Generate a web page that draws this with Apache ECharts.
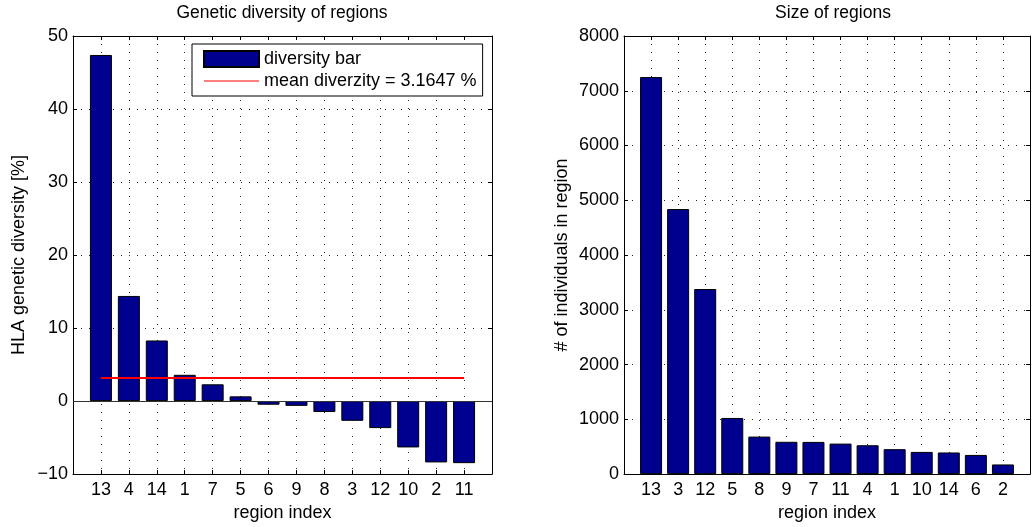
<!DOCTYPE html>
<html lang="en">
<head>
    <meta charset="UTF-8">
    <title>Regions</title>
    <script src="https://cdn.jsdelivr.net/npm/echarts@6/dist/echarts.min.js"></script>
    <style>
        html, body { margin: 0; padding: 0; background: #fff; }
    </style>
</head>
<body>
<div id="chart" style="width: 1033px;height: 527px;"></div>
<script>
    // left plot: diversity, sorted
    var divRegions = ['13', '4', '14', '1', '7', '5', '6', '9', '8', '3', '12', '10', '2', '11'];
    var divValues = [47.4, 14.4, 8.3, 3.6, 2.3, 0.65, -0.5, -0.65, -1.5, -2.7, -3.7, -6.35, -8.4, -8.5];
    var meanDiv = 3.1647;
    var divTicks = [-10, 0, 10, 20, 30, 40, 50];

    // right plot: size, sorted
    var sizeRegions = ['13', '3', '12', '5', '8', '9', '7', '11', '4', '1', '10', '14', '6', '2'];
    var sizeValues = [7250, 4840, 3380, 1025, 685, 590, 588, 557, 527, 455, 405, 395, 350, 176];
    var sizeTicks = [0, 1000, 2000, 3000, 4000, 5000, 6000, 7000, 8000];

    var FONT = "'Liberation Sans', Arial, Helvetica, sans-serif";
    var meanName = 'mean diverzity = ' + meanDiv + ' %';

    function toPoints(vals) {
        return vals.map(function (v, i) { return [i + 1, v]; });
    }

    var dotted = { color: '#222', width: 1, type: [1, 7] };

    function xAx(grid, cats, top) {
        return {
            type: 'value', gridIndex: grid, min: 0, max: 15, interval: 1,
            position: top ? 'top' : 'bottom',
            name: top ? '' : 'region index',
            nameLocation: 'middle', nameGap: 27,
            nameTextStyle: { fontFamily: FONT, fontSize: 18, color: '#000' },
            axisLine: { onZero: false, lineStyle: { color: '#000', width: 1 } },
            axisTick: { inside: true, length: 4, lineStyle: { color: '#000' } },
            axisLabel: {
                show: !top, margin: 7, fontFamily: FONT, fontSize: 18, color: '#000',
                formatter: function (v) { return cats[v - 1] || ''; }
            },
            splitLine: { show: !top, lineStyle: dotted }
        };
    }

    function yAx(grid, ticks, name, gap, right) {
        return {
            type: 'value', gridIndex: grid,
            min: ticks[0], max: ticks[ticks.length - 1], interval: ticks[1] - ticks[0],
            position: right ? 'right' : 'left',
            name: right ? '' : name,
            nameLocation: 'middle', nameGap: gap,
            nameTextStyle: { fontFamily: FONT, fontSize: 18, color: '#000' },
            axisLine: { show: true, onZero: false, lineStyle: { color: '#000', width: 1 } },
            axisTick: { show: true, inside: true, length: 4, lineStyle: { color: '#000' } },
            axisLabel: {
                show: !right, margin: 5, fontFamily: FONT, fontSize: 18, color: '#000',
                formatter: function (v) { return v < 0 ? '\u2212' + Math.abs(v) : String(v); }
            },
            splitLine: { show: !right, lineStyle: dotted }
        };
    }

    var myChart = echarts.init(document.getElementById('chart'));
    var option = {
        animation: false,
        backgroundColor: '#fff',
        title: [{
            text: 'Genetic diversity of regions',
            left: 282, top: 4, textAlign: 'center', padding: 0,
            textStyle: { fontFamily: FONT, fontSize: 17.5, fontWeight: 'normal', color: '#000' }
        }, {
            text: 'Size of regions',
            left: 833, top: 4, textAlign: 'center', padding: 0,
            textStyle: { fontFamily: FONT, fontSize: 17.5, fontWeight: 'normal', color: '#000' }
        }],
        legend: {
            left: 192, top: 44,
            orient: 'vertical',
            padding: [6, 6, 6, 11],
            itemGap: 4,
            itemWidth: 55,
            itemHeight: 16,
            borderColor: '#000', borderWidth: 1,
            backgroundColor: '#fff',
            textStyle: { fontFamily: FONT, fontSize: 18, color: '#000' },
            data: [
                { name: 'diversity bar', icon: 'rect' },
                { name: meanName, icon: 'path://M0,0L100,0L100,2L0,2Z' }
            ]
        },
        grid: [
            { left: 73, top: 36, width: 419, height: 440 },
            { left: 624, top: 36, width: 418, height: 440 }
        ],
        xAxis: [
            xAx(0, divRegions, false), xAx(0, divRegions, true),
            xAx(1, sizeRegions, false), xAx(1, sizeRegions, true)
        ],
        yAxis: [
            yAx(0, divTicks, 'HLA genetic diversity [%]', 45, false),
            yAx(0, divTicks, '', 0, true),
            yAx(1, sizeTicks, '# of individuals in region', 53, false),
            yAx(1, sizeTicks, '', 0, true)
        ],
        series: [{
            name: 'diversity bar',
            type: 'bar',
            xAxisIndex: 0, yAxisIndex: 0,
            barWidth: 22,
            itemStyle: { color: '#00008F', borderColor: '#000', borderWidth: 1 },
            markLine: {
                silent: true, symbol: 'none', label: { show: false },
                lineStyle: { color: '#333', width: 1, type: 'solid' },
                data: [{ yAxis: 0 }]
            },
            data: toPoints(divValues)
        }, {
            name: meanName,
            type: 'line',
            xAxisIndex: 0, yAxisIndex: 0,
            symbol: 'none',
            lineStyle: { color: '#FF0000', width: 2 },
            itemStyle: { color: '#FF0000' },
            data: [[1, meanDiv], [divValues.length, meanDiv]]
        }, {
            name: 'size bar',
            type: 'bar',
            xAxisIndex: 2, yAxisIndex: 2,
            barWidth: 22,
            itemStyle: { color: '#00008F', borderColor: '#000', borderWidth: 1 },
            data: toPoints(sizeValues)
        }]
    };
    myChart.setOption(option);
</script>
</body>
</html>
